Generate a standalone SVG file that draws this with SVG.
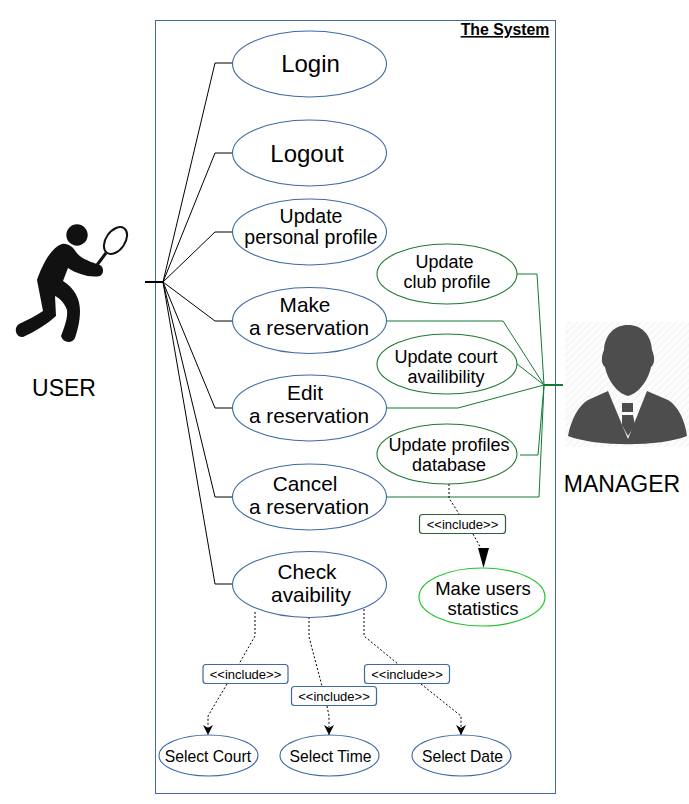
<svg xmlns="http://www.w3.org/2000/svg" width="689" height="804" viewBox="0 0 689 804">
<defs>
<marker id="a" markerUnits="userSpaceOnUse" markerWidth="11" markerHeight="10" refX="10" refY="5" orient="auto" viewBox="0 0 11 10"><path d="M0 0L3 5L0 10L10 5Z" fill="#000"/></marker>
<pattern id="hatch" patternUnits="userSpaceOnUse" width="5" height="5" patternTransform="rotate(45)"><rect width="5" height="5" fill="#fdfdfd"/><rect width="2" height="5" fill="#f6f6f6"/></pattern>
</defs>
<style>
text{font-family:"Liberation Sans",Arial,sans-serif;fill:#000;text-anchor:middle}
.b{fill:#fff;stroke:#3d6aa5;stroke-width:1.1}
.g{fill:#fff;stroke:#1e7a30;stroke-width:1.1}
.bl{fill:none;stroke:#000;stroke-width:1}
.gl{fill:none;stroke:#117a33;stroke-width:1}
.d{fill:none;stroke:#000;stroke-width:1;stroke-dasharray:2 2}
.lb{fill:#fff;stroke:#3d6aa5;stroke-width:1.200}
.t19{font-size:19.500px}.t21{font-size:20.800px}.t18{font-size:18px}.t16{font-size:15.700px}.t12{font-size:13px}.t24{font-size:24px}.t23{font-size:23px}
</style>
<rect id="system" x="155.500" y="20.500" width="400" height="773" fill="#fff" stroke="#3d6aa5" stroke-width="1"/>
<text x="505" y="35" font-size="15.800" font-weight="bold" text-decoration="underline">The System</text>
<g id="connectors">
<path d="M145 282H163" fill="none" stroke="#000" stroke-width="2"/>
<path class="bl" d="M163 282L215 63H232"/>
<path class="bl" d="M163 282L215 153H232"/>
<path class="bl" d="M163 282L215 232H232"/>
<path class="bl" d="M163 282L215 321H232"/>
<path class="bl" d="M163 282L215 408H232"/>
<path class="bl" d="M163 282L215 497H232"/>
<path class="bl" d="M163 282L215 584H232"/>
<path class="gl" d="M517 274H537L544 385"/>
<path class="gl" d="M387 321H503L544 385"/>
<path class="gl" d="M517 364L544 385"/>
<path class="gl" d="M387 408H458L544 385"/>
<path class="gl" d="M520 455H538L544 385"/>
<path class="gl" d="M387 497H539L544 385"/>
<path d="M544 385H563" fill="none" stroke="#117a33" stroke-width="2"/>
<path class="d" d="M449 480V498L459 514"/>
<path class="d" d="M473 534L483 552"/>
<path d="M478 548L489 548L483.500 568Z" fill="#000"/>
<path class="d" d="M255 612V636L239 664"/>
<path class="d" d="M227 684L208 716V735" marker-end="url(#a)"/>
<path class="d" d="M309 617V637L322 686"/>
<path class="d" d="M327 706L329 716V735" marker-end="url(#a)"/>
<path class="d" d="M364 609V636L398 664"/>
<path class="d" d="M421 684L461 716V735" marker-end="url(#a)"/>
</g>
<g id="login"><ellipse class="b" cx="309.500" cy="64" rx="77" ry="33"/><text class="t24" x="310.500" y="72">Login</text></g>
<g id="logout"><ellipse class="b" cx="309.500" cy="153" rx="77" ry="33"/><text class="t24" x="307" y="162">Logout</text></g>
<g id="profile"><ellipse class="b" cx="309.500" cy="232" rx="77" ry="33"/><text class="t19" x="311" y="223">Update</text><text class="t19" x="311" y="244">personal profile</text></g>
<g id="make"><ellipse class="b" cx="309.500" cy="320.500" rx="77" ry="33"/><text class="t21" x="305" y="312">Make</text><text class="t21" x="309" y="335">a reservation</text></g>
<g id="edit"><ellipse class="b" cx="309.500" cy="408" rx="77" ry="33"/><text class="t21" x="305" y="400">Edit</text><text class="t21" x="309" y="423">a reservation</text></g>
<g id="cancel"><ellipse class="b" cx="309.500" cy="497" rx="77" ry="33"/><text class="t21" x="305" y="491">Cancel</text><text class="t21" x="309" y="514">a reservation</text></g>
<g id="check"><ellipse class="b" cx="309.500" cy="584.500" rx="77" ry="33"/><text class="t21" x="307" y="579">Check</text><text class="t21" x="311" y="602">avaibility</text></g>
<g id="club"><ellipse class="g" cx="447" cy="274" rx="70" ry="30"/><text class="t18" x="444.500" y="268">Update</text><text class="t18" x="447" y="288">club profile</text></g>
<g id="court"><ellipse class="g" cx="447" cy="364" rx="70" ry="30"/><text class="t18" x="446" y="363">Update court</text><text class="t18" x="446" y="383">availibility</text></g>
<g id="database"><ellipse class="g" cx="447" cy="454" rx="70" ry="30"/><text class="t18" x="449" y="451">Update profiles</text><text class="t18" x="449" y="471">database</text></g>
<g id="stats"><ellipse cx="482" cy="597" rx="63" ry="29" fill="#fff" stroke="#22c52e" stroke-width="1.200"/><text font-size="18.500" x="483" y="595">Make users</text><text font-size="18.500" x="483" y="615">statistics</text></g>
<g id="court-select"><ellipse class="b" cx="208.500" cy="755.500" rx="49.500" ry="20.500"/><text class="t16" x="208" y="762">Select Court</text></g>
<g id="time-select"><ellipse class="b" cx="329.500" cy="755.500" rx="49.500" ry="20.500"/><text class="t16" x="330.500" y="762">Select Time</text></g>
<g id="date-select"><ellipse class="b" cx="461.500" cy="755.500" rx="49.500" ry="20.500"/><text class="t16" x="462.500" y="762">Select Date</text></g>
<g id="inc1"><rect class="lb" x="203" y="664.500" width="85" height="19" rx="3"/><text class="t12" x="245.500" y="678.500">&lt;&lt;include&gt;&gt;</text></g>
<g id="inc2"><rect class="lb" x="291.500" y="686.500" width="85" height="19" rx="3"/><text class="t12" x="334" y="700.500">&lt;&lt;include&gt;&gt;</text></g>
<g id="inc3"><rect class="lb" x="364.500" y="664.500" width="85" height="19" rx="3"/><text class="t12" x="407" y="678.500">&lt;&lt;include&gt;&gt;</text></g>
<g id="inc4"><rect x="419.500" y="514.500" width="86" height="19" rx="3" fill="#fff" stroke="#2f5f3a" stroke-width="1.200"/><text class="t12" x="462.500" y="528.500">&lt;&lt;include&gt;&gt;</text></g>
<g id="user">
<circle cx="77" cy="235" r="10.700" fill="#111"/>
<ellipse cx="115.500" cy="240.500" rx="9.500" ry="15" transform="rotate(35 115.500 240.500)" fill="#fff" stroke="#111" stroke-width="2"/>
<path d="M97 265L106 253" stroke="#111" stroke-width="3" fill="none"/>
<path d="M62 244C68 243 73 247 76 252C80 258 90 262 100 265C104 267 104 274 100 276C90 278 77 274 68 268L63 281C74 288 80 298 80 311C80 322 77 332 75 338C72 344 63 343 61 336C64 328 68 318 67 310C65 304 60 298 55 296L56 316C46 325 34 332 23 337C16 338 13 328 19 324C27 320 36 316 43 311L37 280C41 268 50 248 62 244Z" fill="#111"/>
<text class="t23" x="64" y="396">USER</text>
</g>
<g id="manager">
<rect x="565" y="322" width="124" height="125" fill="url(#hatch)"/>
<path d="M628 325C642 325 651 335 652 350C655 357 655 364 651 367C649 378 640 393 628 396C616 393 607 378 605 367C601 364 601 357 604 350C605 335 614 325 628 325Z" fill="#4d4d4d"/>
<path d="M608 391L628 439L647 391L668 400C678 406 685 420 687 436C660 447 596 447 568 436C571 420 578 406 588 400Z" fill="#4d4d4d"/>
<path d="M622 403H633V412H622ZM622 415H633L635 425L628 436L622 425Z" fill="#4d4d4d"/>
<text class="t23" x="622" y="492">MANAGER</text>
</g>
</svg>
